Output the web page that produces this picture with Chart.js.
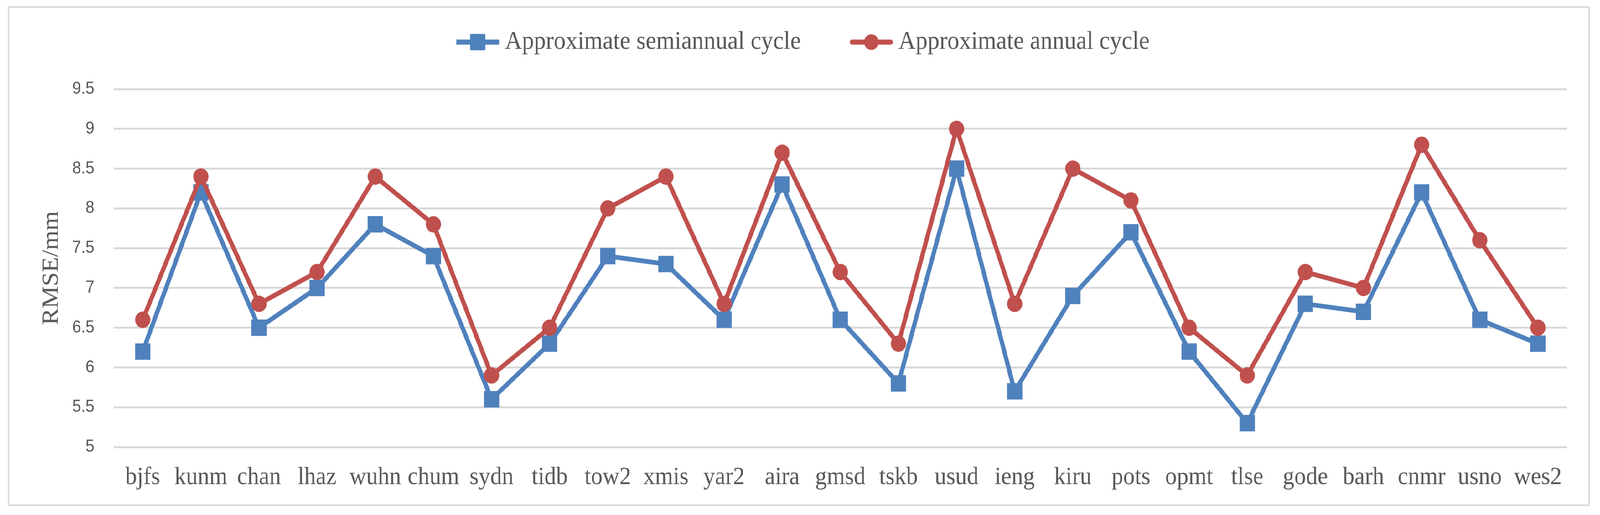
<!DOCTYPE html>
<html lang="en">
<head>
    <meta charset="UTF-8">
    <title>RMSE por estação</title>
    <script src="https://cdn.jsdelivr.net/npm/chart.js"></script>
    <style>
        html, body {
            margin: 0;
            padding: 0;
            background: #fff;
            overflow: hidden;
        }
        .palco {
            position: absolute;
            left: 0;
            top: 0;
            width: 4405px;
            height: 1318px;
            transform-origin: 0 0;
        }
        .moldura {
            position: absolute;
            left: 22px;
            top: 16px;
            width: 4355px;
            height: 1279px;
            box-sizing: border-box;
            border: 4px solid #d9d9d9;
        }
        #grafico {
            position: absolute;
            left: 0;
            top: 0;
        }
    </style>
</head>
<body>
<div class="palco" id="palco">
    <div class="moldura"></div>
    <canvas id="grafico" width="4405" height="1318"></canvas>
</div>
<script>
    const estacoes = ['bjfs', 'kunm', 'chan', 'lhaz', 'wuhn', 'chum', 'sydn', 'tidb', 'tow2', 'xmis', 'yar2', 'aira', 'gmsd',
        'tskb', 'usud', 'ieng', 'kiru', 'pots', 'opmt', 'tlse', 'gode', 'barh', 'cnmr', 'usno', 'wes2'];
    const semestral = [6.2, 8.2, 6.5, 7.0, 7.8, 7.4, 5.6, 6.3, 7.4, 7.3, 6.6, 8.3, 6.6,
        5.8, 8.5, 5.7, 6.9, 7.7, 6.2, 5.3, 6.8, 6.7, 8.2, 6.6, 6.3];
    const anual = [6.6, 8.4, 6.8, 7.2, 8.4, 7.8, 5.9, 6.5, 8.0, 8.4, 6.8, 8.7, 7.2,
        6.3, 9.0, 6.8, 8.5, 8.1, 6.5, 5.9, 7.2, 7.0, 8.8, 7.6, 6.5];
    const nomesSeries = ['Approximate semiannual cycle', 'Approximate annual cycle'];
    const eixoY = { min: 5, max: 9.5, passo: 0.5 };

    const AZUL = '#4f81bd';
    const VERMELHO = '#c0504d';
    const CINZA_TEXTO = '#595959';
    const CINZA_GRADE = '#d9d9d9';

    // a janela pode ser mais estreita que 4405: encolhe tudo na horizontal
    const escalaX = Math.min(1, window.innerWidth / 4405);
    document.getElementById('palco').style.transform = 'scale(' + escalaX + ', 1)';

    // icone da legenda: linha com marcador, alinhado a direita do canvas
    function iconeLegenda(cor, forma) {
        const c = document.createElement('canvas');
        c.width = 202;
        c.height = 46;
        const g = c.getContext('2d');
        g.strokeStyle = cor;
        g.fillStyle = cor;
        g.lineWidth = 13;
        g.beginPath();
        if (forma === 'circle') {
            g.lineCap = 'round';
            g.moveTo(90, 23);
            g.lineTo(196, 23);
        } else {
            g.lineCap = 'butt';
            g.moveTo(84, 23);
            g.lineTo(202, 23);
        }
        g.stroke();
        g.beginPath();
        if (forma === 'circle') {
            g.arc(143, 23, 20, 0, Math.PI * 2);
        } else {
            g.roundRect(122, 2, 42, 42, 3);
        }
        g.fill();
        return c;
    }
    const icones = [iconeLegenda(AZUL, 'rect'), iconeLegenda(VERMELHO, 'circle')];

    new Chart(document.getElementById('grafico'), {
        type: 'line',
        data: {
            labels: estacoes,
            datasets: [{
                label: nomesSeries[0],
                data: semestral,
                borderColor: AZUL,
                backgroundColor: AZUL,
                borderWidth: 12,
                pointStyle: 'rect',
                pointRadius: 29.7,
                pointBorderWidth: 0,
                pointBackgroundColor: AZUL,
                order: 1
            }, {
                label: nomesSeries[1],
                data: anual,
                borderColor: VERMELHO,
                backgroundColor: VERMELHO,
                borderWidth: 12,
                pointStyle: 'circle',
                pointRadius: 21,
                pointBorderWidth: 0,
                pointBackgroundColor: VERMELHO,
                order: 0
            }]
        },
        options: {
            responsive: false,
            animation: false,
            devicePixelRatio: 1,
            layout: { padding: { top: 7, left: 40, right: 91, bottom: 0 } },
            elements: {
                line: { tension: 0, borderJoinStyle: 'round', borderCapStyle: 'round' }
            },
            plugins: {
                tooltip: { enabled: false },
                legend: {
                    position: 'top',
                    labels: {
                        usePointStyle: true,
                        pointStyleWidth: 168,
                        padding: 68,
                        color: CINZA_TEXTO,
                        font: { family: 'Liberation Serif', size: 65.5 },
                        sort: (a, b) => a.datasetIndex - b.datasetIndex,
                        generateLabels: function(chart) {
                            const itens = Chart.defaults.plugins.legend.labels.generateLabels(chart);
                            itens.forEach(it => { it.pointStyle = icones[it.datasetIndex]; });
                            return itens;
                        }
                    }
                }
            },
            scales: {
                x: {
                    type: 'category',
                    offset: true,
                    grid: { display: false, drawTicks: false },
                    border: { display: false },
                    ticks: {
                        autoSkip: false,
                        maxRotation: 0,
                        padding: 40,
                        color: CINZA_TEXTO,
                        font: { family: 'Liberation Serif', size: 64 }
                    },
                    afterFit: s => { s.height = 174; }
                },
                // eixo vazio so para dar o espaco entre legenda e grafico
                x2: {
                    type: 'category',
                    position: 'top',
                    grid: { display: false, drawTicks: false },
                    border: { display: false },
                    ticks: { display: false },
                    afterFit: s => { s.height = 77.5; }
                },
                y: {
                    min: eixoY.min,
                    max: eixoY.max,
                    grid: { color: CINZA_GRADE, lineWidth: 5, drawTicks: false },
                    border: { display: false },
                    ticks: {
                        stepSize: eixoY.passo,
                        padding: 53,
                        color: CINZA_TEXTO,
                        font: { family: 'Liberation Sans', size: 44 },
                        callback: v => String(Number(v.toFixed(1)))
                    },
                    title: {
                        display: true,
                        text: 'RMSE/mm',
                        color: CINZA_TEXTO,
                        font: { family: 'Liberation Serif', size: 64 },
                        padding: { top: 64, bottom: 0 }
                    },
                    afterFit: s => { s.width = 273; }
                }
            }
        }
    });
</script>
</body>
</html>
